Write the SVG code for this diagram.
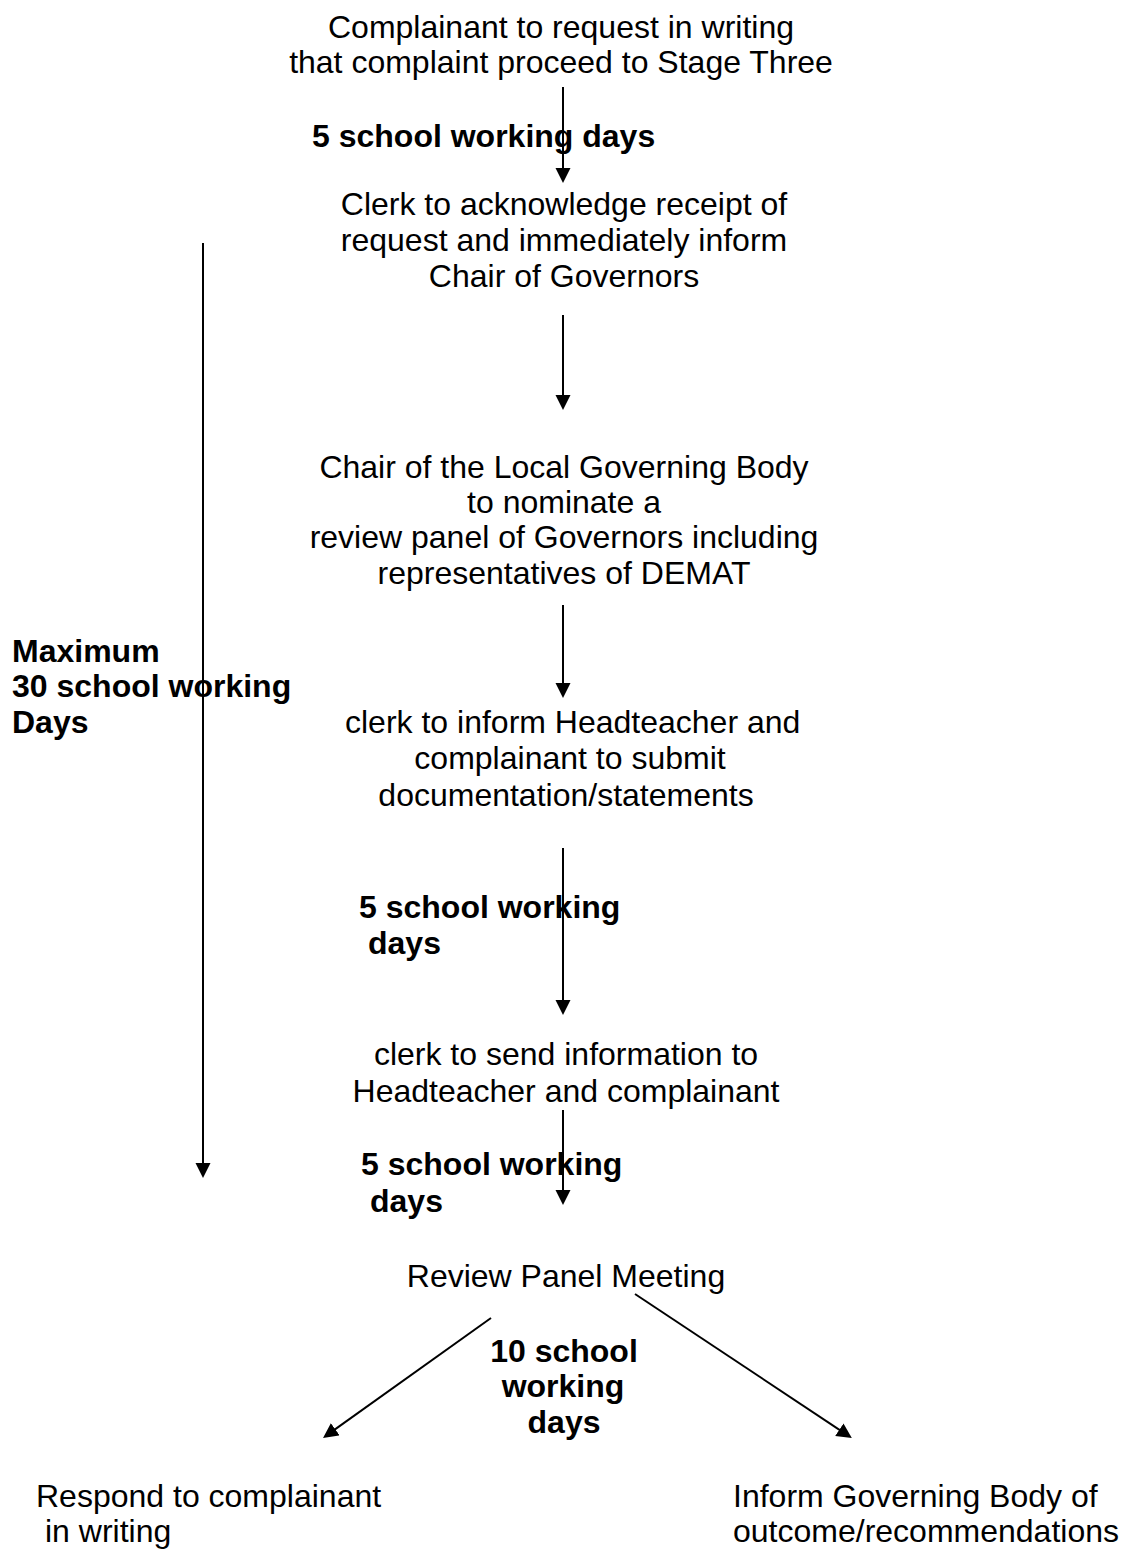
<svg xmlns="http://www.w3.org/2000/svg" width="1126" height="1549" viewBox="0 0 1126 1549">
<style>
text{font-family:"Liberation Sans",Arial,sans-serif;font-size:32px;fill:#000}
.c{text-anchor:middle}
.b{font-weight:bold}
.ln{stroke:#000;stroke-width:2;fill:none}
</style>
<defs>
<marker id="ah" markerUnits="userSpaceOnUse" markerWidth="16" markerHeight="16" viewBox="0 0 16 16" refX="2" refY="7.5" orient="auto">
<path d="M0,0 L15,7.5 L0,15 Z" fill="#000"/>
</marker>
</defs>
<rect width="1126" height="1549" fill="#fff"/>
<g id="connectors">
<line class="ln" x1="563" y1="87" x2="563" y2="170" marker-end="url(#ah)"/>
<line class="ln" x1="563" y1="315" x2="563" y2="397" marker-end="url(#ah)"/>
<line class="ln" x1="563" y1="605" x2="563" y2="685" marker-end="url(#ah)"/>
<line class="ln" x1="563" y1="848" x2="563" y2="1002" marker-end="url(#ah)"/>
<line class="ln" x1="563" y1="1110" x2="563" y2="1192" marker-end="url(#ah)"/>
<line class="ln" x1="203" y1="243" x2="203" y2="1165" marker-end="url(#ah)"/>
<line class="ln" x1="491" y1="1318" x2="333.6" y2="1430.4" marker-end="url(#ah)"/>
<line class="ln" x1="635" y1="1294" x2="841" y2="1430.8" marker-end="url(#ah)"/>
</g>
<g id="n1">
<text class="c" x="561" y="38">Complainant to request in writing</text>
<text class="c" x="561" y="73">that complaint proceed to Stage Three</text>
</g>
<g id="l1"><text class="b" x="312" y="147">5 school working days</text></g>
<g id="n2">
<text class="c" x="564" y="215">Clerk to acknowledge receipt of</text>
<text class="c" x="564" y="251">request and immediately inform</text>
<text class="c" x="564" y="287">Chair of Governors</text>
</g>
<g id="n3">
<text class="c" x="564" y="478">Chair of the Local Governing Body</text>
<text class="c" x="564" y="513">to nominate a</text>
<text class="c" x="564" y="548">review panel of Governors including</text>
<text class="c" x="564" y="584">representatives of DEMAT</text>
</g>
<g id="lmax">
<text class="b" x="12" y="662">Maximum</text>
<text class="b" x="12" y="697">30 school working</text>
<text class="b" x="12" y="733">Days</text>
</g>
<g id="n4">
<text x="345" y="733">clerk to inform Headteacher and</text>
<text class="c" x="570" y="769">complainant to submit</text>
<text class="c" x="566" y="806">documentation/statements</text>
</g>
<g id="l2">
<text class="b" x="359" y="918">5 school working</text>
<text class="b" x="368" y="954">days</text>
</g>
<g id="n5">
<text class="c" x="566" y="1065">clerk to send information to</text>
<text class="c" x="566" y="1102">Headteacher and complainant</text>
</g>
<g id="l3">
<text class="b" x="361" y="1175">5 school working</text>
<text class="b" x="370" y="1212">days</text>
</g>
<g id="n6"><text class="c" x="566" y="1287">Review Panel Meeting</text></g>
<g id="l4">
<text class="b c" x="564" y="1362">10 school</text>
<text class="b c" x="563" y="1397">working</text>
<text class="b c" x="564" y="1433">days</text>
</g>
<g id="n7">
<text x="36" y="1507">Respond to complainant</text>
<text x="45" y="1542">in writing</text>
</g>
<g id="n8">
<text x="733" y="1507">Inform Governing Body of</text>
<text x="733" y="1542">outcome/recommendations</text>
</g>
</svg>
